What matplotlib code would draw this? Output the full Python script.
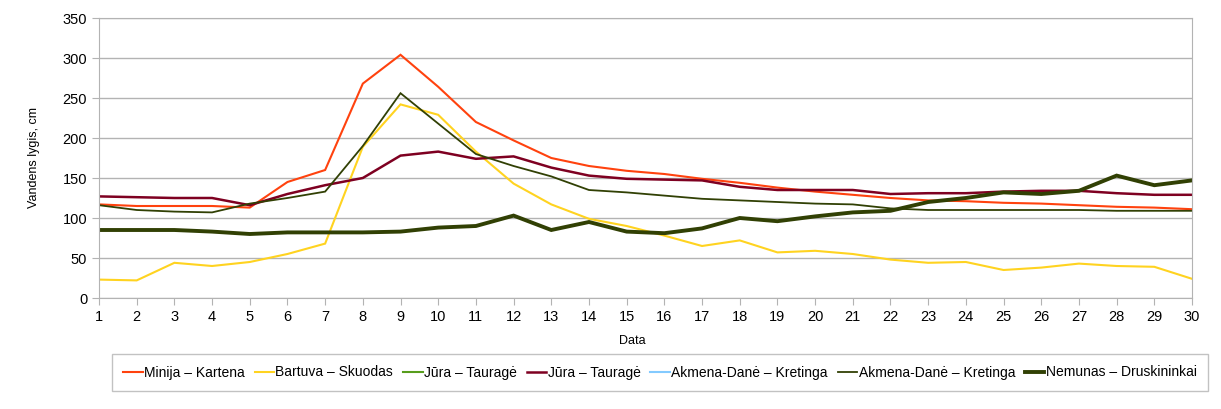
import matplotlib
matplotlib.use("Agg")
import matplotlib.pyplot as plt

plt.rcParams['font.family'] = ['Liberation Sans', 'DejaVu Sans']

days = list(range(1, 31))

minija = [117, 115, 115, 115, 113, 145, 160, 268, 304, 264, 220, 197, 175, 165, 159,
          155, 149, 144, 138, 133, 129, 125, 122, 121, 119, 118, 116, 114, 113, 111]
bartuva = [23, 22, 44, 40, 45, 55, 68, 189, 242, 229, 183, 143, 117, 99, 90,
           78, 65, 72, 57, 59, 55, 48, 44, 45, 35, 38, 43, 40, 39, 24]
jura_green = []
jura_red = [127, 126, 125, 125, 116, 130, 141, 150, 178, 183, 174, 177, 163, 153, 149,
            148, 147, 139, 135, 135, 135, 130, 131, 131, 133, 134, 134, 131, 129, 129]
akmena_blue = []
akmena_green = [116, 110, 108, 107, 118, 125, 133, 190, 256, 218, 180, 165, 152, 135, 132,
                128, 124, 122, 120, 118, 117, 112, 110, 110, 110, 110, 110, 109, 109, 109]
nemunas = [85, 85, 85, 83, 80, 82, 82, 82, 83, 88, 90, 103, 85, 95, 83,
           81, 87, 100, 96, 102, 107, 109, 120, 125, 132, 130, 134, 153, 141, 147]

labels = ["Minija – Kartena", "Bartuva – Skuodas", "Jūra – Tauragė", "Jūra – Tauragė",
          "Akmena-Danė – Kretinga", "Akmena-Danė – Kretinga", "Nemunas – Druskininkai"]
colors = ["#ff420e", "#ffd320", "#579d1c", "#7e0021", "#83caff", "#314004", "#314004"]
widths = [1.5, 1.5, 1.5, 1.8, 1.5, 1.3, 2.8]
series = [minija, bartuva, jura_green, jura_red, akmena_blue, akmena_green, nemunas]

fig = plt.figure(figsize=(12.21, 4.09), dpi=100)
ax = fig.add_axes([99/1221, 1-298/409, (1192-99)/1221, (298-18)/409])

for s, lab, c, w in zip(series, labels, colors, widths):
    ax.plot(days[:len(s)], s, color=c, lw=w, label=lab, solid_joinstyle='miter')

ax.set_xlim(1, 30)
ax.set_ylim(0, 350)
ax.set_xticks(days)
ax.set_yticks(range(0, 351, 50))
ax.grid(axis='y', color='#b3b3b3', lw=1)
ax.set_axisbelow(True)
for sp in ax.spines.values():
    sp.set_color('#b3b3b3')
ax.tick_params(colors='#b3b3b3', labelcolor='black', labelsize=10.5, length=5, direction='out')
ax.set_ylabel("Vandens lygis, cm", fontsize=9, labelpad=16)
fig.text(632/1221, 1-341/409, "Data", fontsize=9, ha='center', va='center')

leg = fig.legend(loc='center', bbox_to_anchor=(112/1221, 1-398/409, (1208-112)/1221, 51/409),
                 mode='expand', ncol=7, fontsize=10,
                 frameon=True, fancybox=False, edgecolor='#b3b3b3', handlelength=1.4,
                 handletextpad=0.1, columnspacing=0.1, borderpad=0.8, borderaxespad=0)
leg.get_frame().set_linewidth(1)

fig.savefig("out.png", dpi=100)
